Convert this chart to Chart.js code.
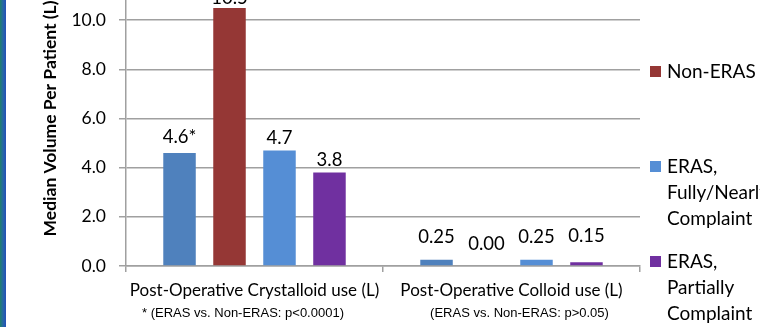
<!DOCTYPE html>
<html>
<head>
<meta charset="utf-8">
<script src="https://cdn.jsdelivr.net/npm/chart.js@4/dist/chart.umd.min.js"></script>
<style>
  html, body { margin: 0; padding: 0; background: #fff; }
  #frame { position: relative; width: 760px; height: 327px; overflow: hidden; background: #fff; }
  #edge { position: absolute; left: 0; top: 0; width: 6px; height: 327px; z-index: 2;
          background: linear-gradient(to right, #1f806a 0%, #2668a4 50%, #2450b8 100%); }
  #holder { position: absolute; left: 0; top: -40px; width: 760px; height: 367px; }
</style>
</head>
<body>
<div id="frame">
  <div id="edge"></div>
  <div id="holder"><canvas id="chart"></canvas></div>
</div>
<script>
// Categories and footnotes under each group
const categories = ['Post-Operative Crystalloid use (L)', 'Post-Operative Colloid use (L)'];
const footnotes = ['* (ERAS vs. Non-ERAS: p<0.0001)', '(ERAS vs. Non-ERAS: p>0.05)'];

// Series names (one entry per legend line)
const seriesNames = [
  ['ERAS'],
  ['Non-ERAS'],
  ['ERAS,', 'Fully/Nearly', 'Complaint'],
  ['ERAS,', 'Partially', 'Complaint']
];

// Median volume per patient (L)
const erasAll     = [4.6, 0.25];
const nonEras     = [10.5, 0.00];
const erasFull    = [4.7, 0.25];
const erasPartial = [3.8, 0.15];

// Value label formatting
const valueDecimals = [1, 2];
const significanceMarks = [['*', ''], ['', ''], ['', ''], ['', '']];

// Y axis range
const yMin = 0;
const yMax = 12;
const yStep = 2;

const seriesValues = [erasAll, nonEras, erasFull, erasPartial];
const seriesColors = ['#4F81BD', '#953735', '#558ED5', '#7030A0'];
const gridGray = '#a0a0a0';

const datasets = seriesValues.map((vals, i) => ({
  label: seriesNames[i].join(' '),
  data: vals,
  backgroundColor: seriesColors[i],
  borderWidth: 0,
  categoryPercentage: 0.778,
  barPercentage: 0.65
}));

// Value labels, footnotes and the side legend
const annotate = {
  id: 'annotate',
  afterDatasetsDraw(chart, args, opts) {
    const ctx = chart.ctx;
    ctx.save();
    ctx.fillStyle = '#000';

    // value labels above bars
    ctx.font = opts.valueFont;
    ctx.textAlign = 'center';
    ctx.textBaseline = 'alphabetic';
    chart.data.datasets.forEach((ds, di) => {
      chart.getDatasetMeta(di).data.forEach((bar, ci) => {
        const txt = ds.data[ci].toFixed(valueDecimals[ci]) + significanceMarks[di][ci];
        ctx.fillText(txt, bar.x, bar.y - opts.lift[di][ci]);
      });
    });

    // footnotes under category labels
    const xs = chart.scales.x;
    ctx.font = opts.noteFont;
    footnotes.forEach((t, ci) => {
      ctx.fillText(t, xs.getPixelForValue(ci) + opts.noteShift[ci], opts.noteBaseline);
    });

    // legend on the right
    ctx.textAlign = 'left';
    ctx.font = opts.legendFont;
    seriesNames.forEach((lines, i) => {
      const cy = opts.legendStart + i * opts.legendStep;
      ctx.fillStyle = seriesColors[i];
      ctx.fillRect(opts.legendX, cy - opts.boxSize / 2, opts.boxSize, opts.boxSize);
      ctx.fillStyle = '#000';
      lines.forEach((ln, k) => {
        ctx.fillText(ln, opts.legendX + opts.boxSize + 6, cy + 6.5 + k * opts.lineStep);
      });
    });
    ctx.restore();
  }
};

new Chart(document.getElementById('chart'), {
  type: 'bar',
  data: { labels: categories, datasets },
  plugins: [annotate],
  options: {
    responsive: true,
    maintainAspectRatio: false,
    animation: false,
    devicePixelRatio: 1,
    layout: { padding: { top: 11, right: 120, left: 0, bottom: 0 } },
    plugins: {
      legend: { display: false },
      tooltip: { enabled: false },
      annotate: {
        valueFont: '18.5px Lato',
        // baseline lift above each bar top, per series then per category
        lift: [[9.5, 17], [4, 16.5], [6, 17], [7, 20]],
        noteFont: '13px "Liberation Sans"',
        noteShift: [-11.5, 8],
        noteBaseline: 357,
        legendFont: '19px Lato',
        legendX: 650,
        legendStart: 16.5,
        legendStep: 95,
        lineStep: 26,
        boxSize: 11
      }
    },
    scales: {
      x: {
        offset: true,
        grid: { display: true, drawOnChartArea: false, drawTicks: true, tickLength: 6, color: gridGray, lineWidth: 1.5, offset: true },
        border: { display: true, color: gridGray, width: 1.5 },
        ticks: { color: '#000', font: { family: 'Lato', size: 17 }, padding: 8, maxRotation: 0, autoSkip: false },
        afterFit(scale) { scale.height = 61; scale.paddingLeft = 0; scale.paddingRight = 0; }
      },
      y: {
        min: yMin,
        max: yMax,
        ticks: { stepSize: yStep, color: '#000', font: { family: 'Lato', size: 17.5 }, padding: 13,
                 callback: v => v.toFixed(1) },
        grid: { color: gridGray, lineWidth: 1.5, tickLength: 7, drawTicks: true },
        border: { display: true, color: gridGray, width: 1.5 },
        title: { display: true, text: 'Median Volume Per Patient (L)', color: '#000',
                 font: { family: 'Lato', size: 17.5, weight: 'bold' }, padding: { top: 39.5, bottom: 0 } },
        afterFit(scale) { scale.width = 126; scale.paddingTop = 0; scale.paddingBottom = 0; }
      }
    }
  }
});
</script>
</body>
</html>
